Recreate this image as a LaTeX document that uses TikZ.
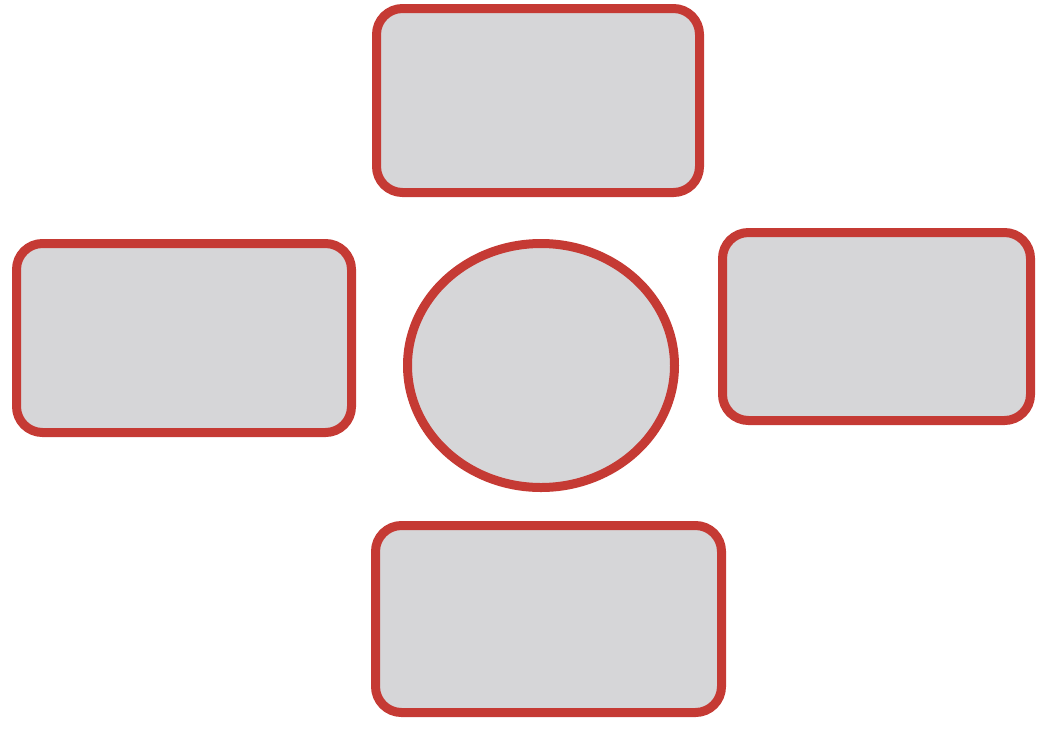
\documentclass[tikz,border=0pt]{standalone}
\usetikzlibrary{shapes.geometric,shadows}

\definecolor{boxred}{HTML}{C53A34}
\definecolor{boxgray}{HTML}{D6D6D8}

\tikzset{
  card/.style={draw=boxred, fill=boxgray, line width=9pt, rounded corners=26pt,
    rectangle, inner sep=0pt,
    drop shadow={opacity=0.12, shadow xshift=2pt, shadow yshift=-3pt}},
  hub/.style={draw=boxred, fill=boxgray, line width=9pt, ellipse, inner sep=0pt,
    drop shadow={opacity=0.12, shadow xshift=2pt, shadow yshift=-3pt}}
}

\begin{document}
\begin{tikzpicture}[x=1pt, y=-1pt]

      % Canvas
	  \useasboundingbox (0,0) rectangle (1045,732);

      % Define nodes
	  \node[hub, minimum width=267pt, minimum height=244pt]  (core)   at (541,365.5) {};
	  \node[card, minimum width=323pt, minimum height=184pt] (north)  at (538,100.5) {};
	  \node[card, minimum width=335pt, minimum height=189pt] (west)   at (184,338)   {};
	  \node[card, minimum width=308pt, minimum height=188pt] (east)   at (876.5,326.5) {};
	  \node[card, minimum width=346pt, minimum height=187pt] (south)  at (548.5,619)  {};

	\end{tikzpicture}
\end{document}
